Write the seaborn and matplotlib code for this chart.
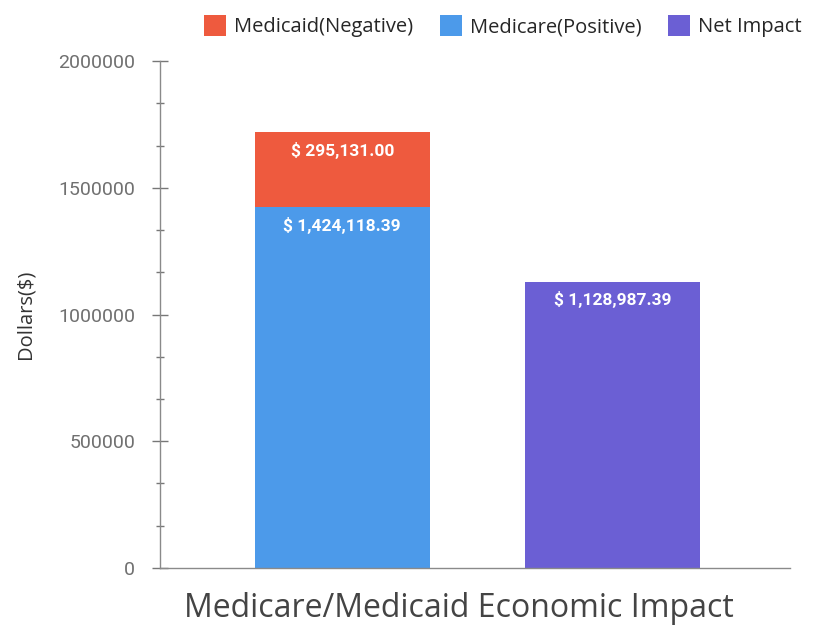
import matplotlib
matplotlib.use("Agg")
import matplotlib.pyplot as plt
from matplotlib.patches import Patch
from matplotlib.ticker import MultipleLocator, AutoMinorLocator
import pandas as pd
import seaborn as sns

# Data
categories = ["Medicare/Medicaid", "Net Impact"]
medicare_positive = [1424118.39, 0.0]
medicaid_negative = [295131.00, 0.0]
net_impact = [0.0, 1128987.39]
series_names = ["Medicaid(Negative)", "Medicare(Positive)", "Net Impact"]
colors = ["#EE5A3E", "#4C9AEA", "#6B5FD4"]

sns.set_theme(style="white")
plt.rcParams["font.family"] = ["Roboto", "DejaVu Sans"]

fig = plt.figure(figsize=(8.13, 6.29), dpi=100)
ax = fig.add_axes([0.197, 0.097, 0.775, 0.806])

df_base = pd.DataFrame({"cat": categories, "val": medicare_positive})
df_top = pd.DataFrame({"cat": categories, "val": medicaid_negative})
df_net = pd.DataFrame({"cat": categories, "val": net_impact})

bw = 0.648
sns.barplot(data=df_base.iloc[[0]], x="cat", y="val", order=categories,
            color=colors[1], width=bw, ax=ax, linewidth=0, saturation=1)
sns.barplot(data=df_top.iloc[[0]], x="cat", y="val", order=categories,
            color=colors[0], width=bw, ax=ax, linewidth=0, saturation=1,
            bottom=medicare_positive[0])
sns.barplot(data=df_net.iloc[[1]], x="cat", y="val", order=categories,
            color=colors[2], width=bw, ax=ax, linewidth=0, saturation=1)

# Value labels near the top of each segment
lab_kw = dict(ha="center", va="top", color="white", fontsize=12.5,
              fontweight="bold")
offset = 38000
ax.text(0, medicare_positive[0] + medicaid_negative[0] - offset,
        f"$ {medicaid_negative[0]:,.2f}", **lab_kw)
ax.text(0, medicare_positive[0] - offset,
        f"$ {medicare_positive[0]:,.2f}", **lab_kw)
ax.text(1, net_impact[1] - offset, f"$ {net_impact[1]:,.2f}", **lab_kw)

ax.set_xlim(-0.674, 1.659)
ax.set_ylim(0, 2000000)
ax.yaxis.set_major_locator(MultipleLocator(500000))
ax.yaxis.set_minor_locator(AutoMinorLocator(3))
ax.ticklabel_format(axis="y", style="plain")
ax.set_xticks([])

for side in ["top", "right"]:
    ax.spines[side].set_visible(False)
for side in ["left", "bottom"]:
    ax.spines[side].set_color("#8a8a8a")
    ax.spines[side].set_linewidth(1.0)

ax.tick_params(axis="y", which="major", direction="inout", length=12,
               width=1, color="#777777", labelcolor="#707070", labelsize=14,
               left=True, pad=12)
ax.tick_params(axis="y", which="minor", direction="inout", length=6,
               width=1, color="#777777", left=True)

ax.set_ylabel("Dollars($)", fontsize=14.5, color="#333333", labelpad=16,
              family=["Open Sans", "DejaVu Sans"])
ax.set_xlabel("Medicare/Medicaid Economic Impact", fontsize=23,
              color="#444444",
              family=["Open Sans", "DejaVu Sans"])
ax.xaxis.set_label_coords(0.474, -0.047, transform=ax.transAxes)
ax.xaxis.label.set_va("top")

handles = [Patch(facecolor=c, edgecolor="none") for c in colors]
fig.legend(handles, series_names, loc="upper right", ncol=3,
           bbox_to_anchor=(1.008, 1.005), frameon=False,
           handlelength=1.1, handleheight=1.2, columnspacing=1.3,
           handletextpad=0.4, prop={"family": ["Open Sans", "DejaVu Sans"],
                                     "size": 14.5})

fig.savefig("out.png", dpi=100, facecolor="white")
